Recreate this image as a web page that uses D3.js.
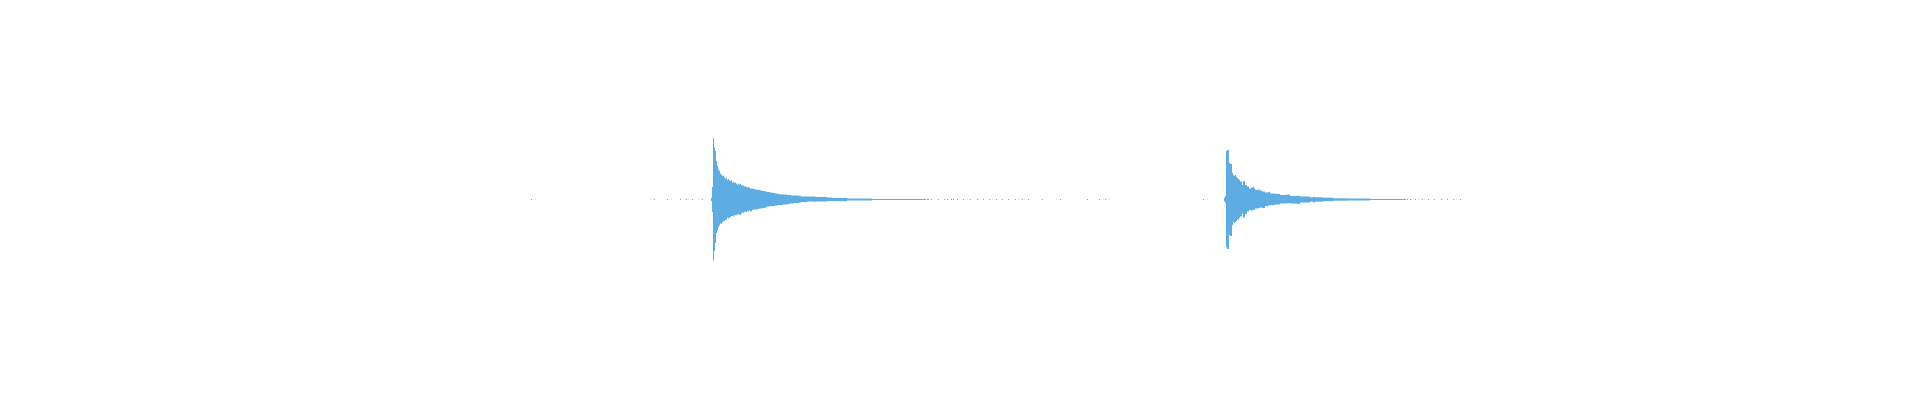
<!DOCTYPE html>
<html>
<head>
<meta charset="utf-8">
<script src="https://cdn.jsdelivr.net/npm/d3@7"></script>
<style>
  body { margin: 0; background: #fff; }
  svg { display: block; }
</style>
</head>
<body>
<script>
// waveform envelope, time in seconds, amplitude -1..1
// each value holds from its time until the next time
const burst1Time = [7.11, 7.12, 7.13, 7.14, 7.15, 7.16, 7.17, 7.18, 7.19, 7.20,
  7.21, 7.22, 7.23, 7.24, 7.25, 7.26, 7.27, 7.28, 7.29, 7.30,
  7.31, 7.32, 7.33, 7.34, 7.35, 7.36, 7.37, 7.38, 7.39, 7.40,
  7.41, 7.42, 7.43, 7.44, 7.45, 7.46, 7.47, 7.48, 7.49, 7.50,
  7.52, 7.53, 7.55, 7.57, 7.59, 7.60, 7.62, 7.65, 7.67, 7.70,
  7.72, 7.75, 7.78, 7.80, 7.83, 7.87, 7.90, 7.91, 7.94, 7.99,
  8.00, 8.01, 8.07, 8.14, 8.15, 8.27, 8.32, 8.47, 8.72];
const burst1Max = [0.008, 0.063, 0.308, 0.261, 0.243, 0.193, 0.168, 0.150, 0.143, 0.130,
  0.125, 0.118, 0.120, 0.110, 0.105, 0.110, 0.098, 0.103, 0.095, 0.093,
  0.098, 0.085, 0.088, 0.083, 0.085, 0.080, 0.075, 0.080, 0.075, 0.078,
  0.073, 0.068, 0.070, 0.065, 0.068, 0.063, 0.060, 0.063, 0.058, 0.055,
  0.055, 0.053, 0.050, 0.048, 0.048, 0.045, 0.043, 0.040, 0.038, 0.035,
  0.033, 0.030, 0.028, 0.025, 0.025, 0.023, 0.023, 0.020, 0.020, 0.018,
  0.018, 0.015, 0.015, 0.015, 0.013, 0.010, 0.008, 0.005, 0.0025];
const burst1Min = [-0.008, -0.063, -0.306, -0.258, -0.218, -0.168, -0.153, -0.140, -0.130, -0.120,
  -0.123, -0.113, -0.108, -0.108, -0.103, -0.100, -0.090, -0.095, -0.090, -0.088,
  -0.083, -0.083, -0.085, -0.078, -0.080, -0.078, -0.075, -0.073, -0.075, -0.078,
  -0.070, -0.065, -0.068, -0.063, -0.060, -0.063, -0.058, -0.060, -0.055, -0.060,
  -0.053, -0.050, -0.050, -0.048, -0.045, -0.045, -0.043, -0.040, -0.035, -0.033,
  -0.033, -0.030, -0.028, -0.028, -0.025, -0.023, -0.020, -0.020, -0.018, -0.015,
  -0.015, -0.013, -0.010, -0.013, -0.010, -0.008, -0.008, -0.005, -0.0025];
const burst1End = 9.26;

const burst2Time = [12.24, 12.25, 12.26, 12.27, 12.29, 12.30, 12.32, 12.33, 12.34, 12.35,
  12.36, 12.37, 12.38, 12.39, 12.40, 12.42, 12.43, 12.45, 12.47, 12.49,
  12.51, 12.53, 12.54, 12.55, 12.58, 12.60, 12.62, 12.65, 12.68, 12.70,
  12.75, 12.80, 12.87, 12.90, 12.97, 13.00, 13.10, 13.13, 13.15, 13.23,
  13.33, 13.48, 13.70];
const burst2Max = [0.008, 0.018, 0.243, 0.248, 0.183, 0.178, 0.133, 0.123, 0.118, 0.123,
  0.113, 0.108, 0.103, 0.098, 0.090, 0.073, 0.093, 0.073, 0.065, 0.055,
  0.060, 0.065, 0.055, 0.048, 0.050, 0.045, 0.040, 0.035, 0.038, 0.030,
  0.028, 0.023, 0.025, 0.018, 0.018, 0.015, 0.011, 0.013, 0.011, 0.009,
  0.006, 0.005, 0.0025];
const burst2Min = [-0.008, -0.018, -0.238, -0.248, -0.178, -0.183, -0.128, -0.113, -0.118, -0.113,
  -0.108, -0.098, -0.103, -0.093, -0.085, -0.070, -0.090, -0.073, -0.060, -0.053,
  -0.055, -0.050, -0.053, -0.045, -0.043, -0.040, -0.043, -0.033, -0.030, -0.028,
  -0.025, -0.020, -0.018, -0.020, -0.023, -0.015, -0.011, -0.015, -0.011, -0.008,
  -0.006, -0.005, -0.0025];
const burst2End = 14.06;

// isolated low-level samples (single dots on the zero line)
const noiseTime = [5.31, 6.54, 6.67, 6.80, 6.86, 6.92, 7.02,
  9.27, 9.28, 9.31, 9.38, 9.44, 9.47, 9.51, 9.53, 9.57, 9.63, 9.70, 9.77, 9.83,
  9.89, 9.96, 10.02, 10.08, 10.15, 10.22, 10.28, 10.42, 10.60, 10.87, 10.99, 11.05,
  12.03, 14.07, 14.10, 14.15, 14.22, 14.28, 14.34, 14.41, 14.47, 14.53, 14.60];
const noiseLevel = 0.0025;
const sampleStep = 0.01;

const width = 1920;
const height = 400;

const x = d3.scaleLinear().domain([0, 19.2]).range([0, width]);
const y = d3.scaleLinear().domain([-1, 1]).range([399, 0]);

// build segments from the arrays
function segments(times, maxs, mins, end) {
  return times.map((t, i) => ({
    t0: t,
    t1: i < times.length - 1 ? times[i + 1] : end,
    max: maxs[i],
    min: mins[i]
  }));
}

const data = [
  ...segments(burst1Time, burst1Max, burst1Min, burst1End),
  ...segments(burst2Time, burst2Max, burst2Min, burst2End),
  ...noiseTime.map(t => ({ t0: t, t1: t + sampleStep, max: noiseLevel, min: -noiseLevel }))
];

const svg = d3.select("body")
  .append("svg")
  .attr("width", width)
  .attr("height", height);

svg.append("g")
  .attr("fill", "#5DADE2")
  .selectAll("rect")
  .data(data)
  .enter()
  .append("rect")
  .attr("x",      d => x(d.t0))
  .attr("width",  d => x(d.t1) - x(d.t0))
  .attr("y",      d => y(d.max))
  .attr("height", d => y(d.min) - y(d.max));
</script>
</body>
</html>
